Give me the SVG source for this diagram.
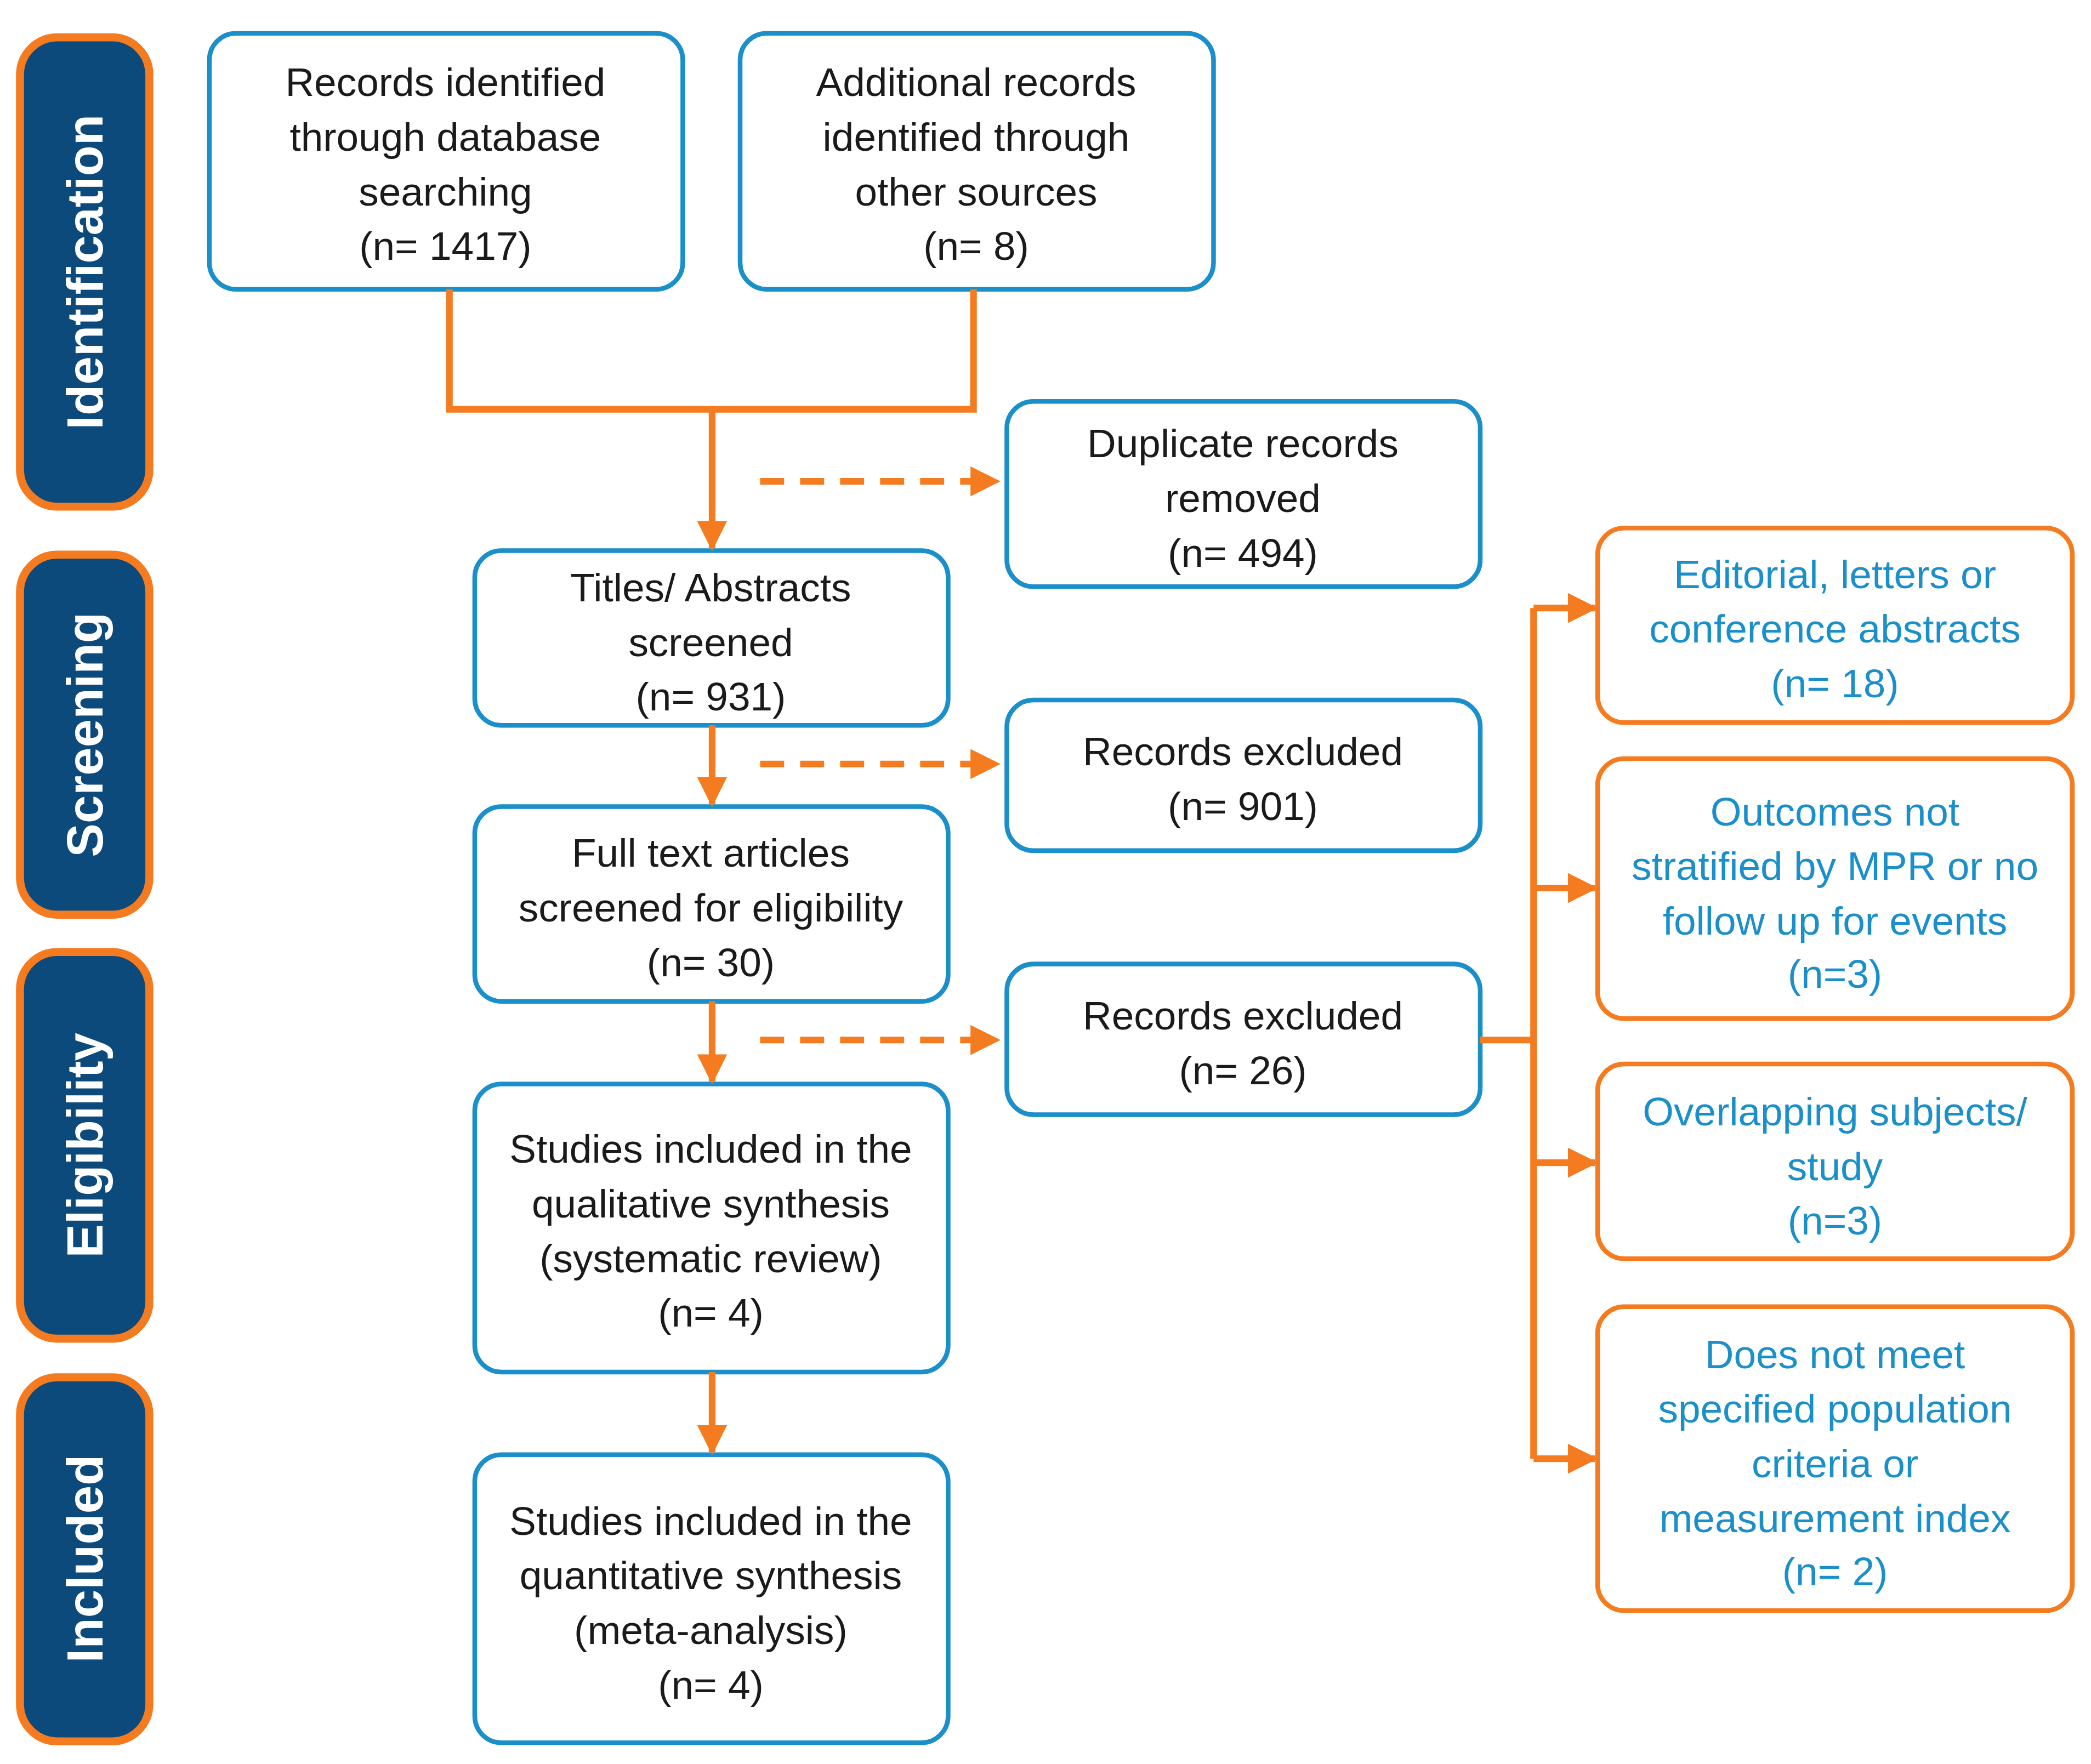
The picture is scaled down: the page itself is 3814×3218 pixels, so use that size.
<svg xmlns="http://www.w3.org/2000/svg" width="3814" height="3218" viewBox="0 0 3814 3218">
<style>
.side rect{fill:#0d4a7c;stroke:#f47b20;stroke-width:6}
.side text{fill:#fff;font-family:"Liberation Sans",Arial,sans-serif;font-weight:bold;font-size:38px;text-anchor:middle}
.b rect{fill:#fff;stroke:#1a8fc9;stroke-width:3.5}
.b text{fill:#1a1a1a;font-family:"Liberation Sans",Arial,sans-serif;font-size:30px;text-anchor:middle}
.o rect{fill:#fff;stroke:#f47b20;stroke-width:3.5}
.o text{fill:#1a8fc9;font-family:"Liberation Sans",Arial,sans-serif;font-size:30px;text-anchor:middle}
.c path{fill:none;stroke:#f47b20;stroke-width:5}
.c .d{stroke-dasharray:18 12}
</style>
<defs><marker id="ah" viewBox="0 0 10 10" refX="9" refY="5" markerWidth="4.5" markerHeight="4.5" orient="auto" markerUnits="strokeWidth"><path d="M0,0L10,5L0,10z" fill="#f47b20"/></marker></defs>
<rect width="3814" height="3218" fill="#fff"/>
<g transform="scale(2.4324)">
<g id="lab-identification" class="side"><rect x="15" y="28" width="97" height="352" rx="28"/><text transform="translate(77,204) rotate(-90)">Identification</text></g>
<g id="lab-screening" class="side"><rect x="15" y="416" width="97" height="270" rx="28"/><text transform="translate(77,551) rotate(-90)">Screening</text></g>
<g id="lab-eligibility" class="side"><rect x="15" y="714" width="97" height="290" rx="28"/><text transform="translate(77,859) rotate(-90)">Eligibility</text></g>
<g id="lab-included" class="side"><rect x="15" y="1033" width="97" height="273" rx="28"/><text transform="translate(77,1169) rotate(-90)">Included</text></g>

<g id="n-db" class="b"><rect x="157" y="25" width="355" height="192" rx="20"/><text x="334" y="72">Records identified</text><text x="334" y="113">through database</text><text x="334" y="154">searching</text><text x="334" y="195">(n= 1417)</text></g>
<g id="n-other" class="b"><rect x="555" y="25" width="355" height="192" rx="20"/><text x="732" y="72">Additional records</text><text x="732" y="113">identified through</text><text x="732" y="154">other sources</text><text x="732" y="195">(n= 8)</text></g>
<g id="n-dup" class="b"><rect x="755" y="301" width="355" height="139" rx="20"/><text x="932" y="343">Duplicate records</text><text x="932" y="384">removed</text><text x="932" y="425">(n= 494)</text></g>
<g id="n-titles" class="b"><rect x="356" y="413" width="355" height="131" rx="20"/><text x="533" y="451">Titles/ Abstracts</text><text x="533" y="492">screened</text><text x="533" y="533">(n= 931)</text></g>
<g id="n-ex901" class="b"><rect x="755" y="525" width="355" height="113" rx="20"/><text x="932" y="574">Records excluded</text><text x="932" y="615">(n= 901)</text></g>
<g id="n-full" class="b"><rect x="356" y="605" width="355" height="146" rx="20"/><text x="533" y="650">Full text articles</text><text x="533" y="691">screened for eligibility</text><text x="533" y="732">(n= 30)</text></g>
<g id="n-ex26" class="b"><rect x="755" y="723" width="355" height="113" rx="20"/><text x="932" y="772">Records excluded</text><text x="932" y="813">(n= 26)</text></g>
<g id="n-qual" class="b"><rect x="356" y="813" width="355" height="216" rx="20"/><text x="533" y="872">Studies included in the</text><text x="533" y="913">qualitative synthesis</text><text x="533" y="954">(systematic review)</text><text x="533" y="995">(n= 4)</text></g>
<g id="n-quant" class="b"><rect x="356" y="1091" width="355" height="216" rx="20"/><text x="533" y="1151">Studies included in the</text><text x="533" y="1192">quantitative synthesis</text><text x="533" y="1233">(meta-analysis)</text><text x="533" y="1274">(n= 4)</text></g>

<g id="n-e1" class="o"><rect x="1198" y="396" width="356" height="146" rx="20"/><text x="1376" y="441">Editorial, letters or</text><text x="1376" y="482">conference abstracts</text><text x="1376" y="523">(n= 18)</text></g>
<g id="n-e2" class="o"><rect x="1198" y="569" width="356" height="195" rx="20"/><text x="1376" y="619">Outcomes not</text><text x="1376" y="660">stratified by MPR or no</text><text x="1376" y="701">follow up for events</text><text x="1376" y="741">(n=3)</text></g>
<g id="n-e3" class="o"><rect x="1198" y="798" width="356" height="146" rx="20"/><text x="1376" y="844">Overlapping subjects/</text><text x="1376" y="885">study</text><text x="1376" y="926">(n=3)</text></g>
<g id="n-e4" class="o"><rect x="1198" y="980" width="356" height="228" rx="20"/><text x="1376" y="1026">Does not meet</text><text x="1376" y="1067">specified population</text><text x="1376" y="1108">criteria or</text><text x="1376" y="1149">measurement index</text><text x="1376" y="1189">(n= 2)</text></g>

<g id="connectors" class="c">
<path d="M337,217V307H730V217"/>
<path d="M534,307V411" marker-end="url(#ah)"/>
<path class="d" d="M570,361H748" marker-end="url(#ah)"/>
<path d="M534,544V603" marker-end="url(#ah)"/>
<path class="d" d="M570,573H748" marker-end="url(#ah)"/>
<path d="M534,751V811" marker-end="url(#ah)"/>
<path class="d" d="M570,780H748" marker-end="url(#ah)"/>
<path d="M534,1029V1089" marker-end="url(#ah)"/>
<path d="M1110,780H1150"/>
<path d="M1150,456V1094"/>
<path d="M1150,456H1196" marker-end="url(#ah)"/>
<path d="M1150,666H1196" marker-end="url(#ah)"/>
<path d="M1150,872H1196" marker-end="url(#ah)"/>
<path d="M1150,1094H1196" marker-end="url(#ah)"/>
</g>
</g>
</svg>
